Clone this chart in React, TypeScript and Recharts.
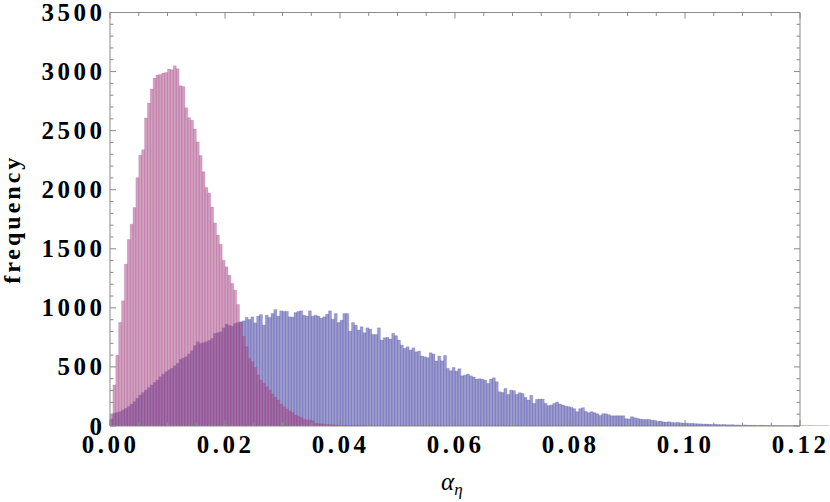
import React from 'react';
import { ComposedChart, Bar, XAxis, YAxis, ReferenceLine, Label } from 'recharts';

// ---- data: histogram bins of width 0.0005 starting at 0 ----
const BIN_WIDTH = 0.0005;

const blueCounts = [
  60, 107, 115, 121, 135, 149, 165, 186, 206, 235,
  262, 283, 304, 325, 347, 368, 389, 417, 438, 459,
  475, 488, 510, 530, 564, 575, 586, 610, 637, 680,
  713, 699, 705, 713, 725, 741, 784, 790, 797, 830,
  862, 850, 845, 868, 875, 882, 890, 919, 902, 924,
  873, 930, 944, 854, 938, 919, 953, 986, 930, 975,
  970, 970, 924, 922, 960, 970, 975, 938, 930, 975,
  930, 938, 930, 913, 924, 947, 975, 904, 952, 876,
  896, 952, 952, 803, 876, 854, 812, 840, 789, 831,
  820, 775, 775, 831, 727, 747, 750, 736, 784, 764,
  727, 685, 657, 671, 643, 662, 628, 634, 592, 586,
  578, 620, 609, 550, 592, 552, 597, 488, 468, 496,
  465, 485, 425, 431, 440, 425, 415, 397, 400, 397,
  389, 361, 397, 408, 375, 290, 284, 318, 268, 304,
  299, 268, 282, 276, 243, 220, 260, 192, 226, 228,
  228, 192, 172, 178, 192, 203, 186, 178, 169, 164,
  158, 147, 121, 147, 155, 124, 113, 121, 113, 104,
  90, 104, 104, 96, 87, 87, 87, 87, 87, 62,
  60, 79, 70, 65, 58, 56, 56, 55, 50, 48,
  40, 42, 35, 33, 36, 30, 28, 31, 27, 25,
  24, 22, 23, 20, 19, 18, 16, 17, 15, 14,
  15, 13, 12, 13, 11, 10, 11, 9, 9, 8,
  9, 7, 7, 6, 6, 5, 6, 5, 4, 5,
  4, 4, 3, 4, 3, 3, 2, 3, 2, 2,
  2, 2, 1, 2, 1, 1, 1, 1, 1, 1,
];

const pinkCounts = [
  93, 347, 600, 877, 1060, 1370, 1578, 1708, 1849, 2102,
  2291, 2339, 2607, 2733, 2852, 2945, 2970, 2976, 2987, 2993,
  3021, 3015, 3049, 3024, 2880, 2874, 2694, 2610, 2587, 2514,
  2404, 2290, 2153, 2018, 1972, 1854, 1719, 1617, 1539, 1403,
  1347, 1277, 1208, 1150, 1029, 880, 760, 671, 572, 544,
  496, 431, 389, 361, 332, 304, 271, 243, 220, 186,
  163, 145, 128, 114, 93, 83, 73, 56, 51, 48,
  45, 22, 20, 18, 15, 14, 12, 10, 9, 8,
  6, 5, 4, 3, 3, 2, 2, 1, 1, 0,
  0, 0, 0, 0, 0, 0, 0, 0, 0, 0,
  0, 0, 0, 0, 0, 0, 0, 0, 0, 0,
  0, 0, 0, 0, 0, 0, 0, 0, 0, 0,
  0, 0, 0, 0, 0, 0, 0, 0, 0, 0,
  0, 0, 0, 0, 0, 0, 0, 0, 0, 0,
  0, 0, 0, 0, 0, 0, 0, 0, 0, 0,
  0, 0, 0, 0, 0, 0, 0, 0, 0, 0,
  0, 0, 0, 0, 0, 0, 0, 0, 0, 0,
  0, 0, 0, 0, 0, 0, 0, 0, 0, 0,
  0, 0, 0, 0, 0, 0, 0, 0, 0, 0,
  0, 0, 0, 0, 0, 0, 0, 0, 0, 0,
  0, 0, 0, 0, 0, 0, 0, 0, 0, 0,
  0, 0, 0, 0, 0, 0, 0, 0, 0, 0,
  0, 0, 0, 0, 0, 0, 0, 0, 0, 0,
  0, 0, 0, 0, 0, 0, 0, 0, 0, 0,
  0, 0, 0, 0, 0, 0, 0, 0, 0, 0,
];

const xTicks = [
  0, 0.005, 0.01, 0.015, 0.02, 0.025, 0.03, 0.035, 0.04, 0.045, 0.05, 0.055,
  0.06, 0.065, 0.07, 0.075, 0.08, 0.085, 0.09, 0.095, 0.1, 0.105, 0.11, 0.115, 0.12,
];
const xMajorTicks = [0, 0.02, 0.04, 0.06, 0.08, 0.1, 0.12];
const yTicks = [
  0, 100, 200, 300, 400, 500, 600, 700, 800, 900, 1000, 1100, 1200, 1300, 1400, 1500,
  1600, 1700, 1800, 1900, 2000, 2100, 2200, 2300, 2400, 2500, 2600, 2700, 2800, 2900,
  3000, 3100, 3200, 3300, 3400, 3500,
];
const yMajorTicks = [0, 500, 1000, 1500, 2000, 2500, 3000, 3500];

const X_DOMAIN_MAX = 0.125; // bins extend past the frame
const FRAME_X_MAX = 0.12;
const Y_MAX = 3500;

const rows = blueCounts.map((b, i) => ({
  bin: i,
  start: i * BIN_WIDTH,
  blue: b,
  pink: pinkCounts[i],
}));

// ---- layout (page coordinates; chart placed at the page origin) ----
const W = 830;
const H = 502;
const MARGIN = { top: 12.5, right: 1.25, left: 0, bottom: 0 };
const Y_AXIS_W = 110;
const X_AXIS_H = 76;
const PLOT_LEFT = MARGIN.left + Y_AXIS_W;
const PLOT_TOP = MARGIN.top;
const PLOT_W = W - PLOT_LEFT - MARGIN.right;
const PLOT_H = H - MARGIN.top - MARGIN.bottom - X_AXIS_H;
const FRAME_RIGHT = PLOT_LEFT + PLOT_W * (FRAME_X_MAX / X_DOMAIN_MAX);

const FONT = '"Liberation Serif", "Times New Roman", serif';
const FRAME = '#8a8a8a';
const BLUE = 'rgb(57,57,159)';
const PINK = 'rgb(165,65,129)';

const isIn = (arr: number[], v: number) => arr.some((a) => Math.abs(a - v) < 1e-9);

const XTick = (props: any) => {
  const { x, y, payload } = props;
  const v = payload.value as number;
  const major = isIn(xMajorTicks, v);
  const len = major ? 6 : 3.5;
  return (
    <g>
      <line x1={x} y1={y} x2={x} y2={y - len} stroke={FRAME} strokeWidth={1} />
      <line x1={x} y1={y - PLOT_H} x2={x} y2={y - PLOT_H + len} stroke={FRAME} strokeWidth={1} />
      {major && (
        <text
          x={x + 0.5}
          y={y + 27}
          textAnchor="middle"
          fontFamily={FONT}
          fontWeight="bold"
          fontSize={25}
          letterSpacing={3.5}
          fill="#000"
        >
          {v.toFixed(2)}
        </text>
      )}
    </g>
  );
};

const YTick = (props: any) => {
  const { x, y, payload } = props;
  const v = payload.value as number;
  const major = isIn(yMajorTicks, v);
  const len = major ? 6 : 3.5;
  return (
    <g>
      <line x1={x} y1={y} x2={x + len} y2={y} stroke={FRAME} strokeWidth={1} />
      <line x1={FRAME_RIGHT} y1={y} x2={FRAME_RIGHT - len} y2={y} stroke={FRAME} strokeWidth={1} />
      {major && (
        <text
          x={x - 4.5}
          y={y + 8.5}
          textAnchor="end"
          fontFamily={FONT}
          fontWeight="bold"
          fontSize={25}
          letterSpacing={3.5}
          fill="#000"
        >
          {String(v)}
        </text>
      )}
    </g>
  );
};

const XLabel = () => {
  const cx = PLOT_LEFT + PLOT_W * (0.06 / X_DOMAIN_MAX);
  return (
    <text x={cx - 14} y={H - 12} fontFamily={FONT} fontStyle="italic" fontSize={25} fill="#000">
      α
      <tspan dy={5} fontSize={17}>η</tspan>
    </text>
  );
};

const YLabel = () => {
  const cx = 20;
  const cy = PLOT_TOP + PLOT_H / 2;
  return (
    <text
      x={cx}
      y={cy}
      transform={`rotate(-90, ${cx}, ${cy})`}
      textAnchor="middle"
      fontFamily={FONT}
      fontWeight="bold"
      fontSize={24}
      letterSpacing={3}
      fill="#000"
    >
      frequency
    </text>
  );
};

export default function App() {
  return (
    <div style={{ position: 'absolute', left: 0, top: 0 }}>
      <ComposedChart
        width={W}
        height={H}
        data={rows}
        margin={MARGIN}
        barCategoryGap={0}
        barGap={0}
      >
        <XAxis
          xAxisId="num"
          type="number"
          dataKey="start"
          domain={[0, X_DOMAIN_MAX]}
          allowDataOverflow
          ticks={xTicks}
          interval={0}
          height={X_AXIS_H}
          axisLine={false}
          tickLine={false}
          tickSize={0}
          tickMargin={0}
          tick={<XTick />}
        >
          <Label content={<XLabel />} />
        </XAxis>
        <XAxis xAxisId="binsBlue" dataKey="bin" type="category" hide height={0} />
        <XAxis xAxisId="binsPink" dataKey="bin" type="category" hide height={0} />
        <YAxis
          type="number"
          domain={[0, Y_MAX]}
          allowDataOverflow
          ticks={yTicks}
          interval={0}
          width={Y_AXIS_W}
          axisLine={false}
          tickLine={false}
          tickSize={0}
          tickMargin={0}
          tick={<YTick />}
        >
          <Label content={<YLabel />} />
        </YAxis>
        <Bar
          xAxisId="binsBlue"
          dataKey="blue"
          fill={BLUE}
          fillOpacity={0.5}
          stroke={BLUE}
          strokeOpacity={0.25}
          strokeWidth={0.7}
          isAnimationActive={false}
        />
        <Bar
          xAxisId="binsPink"
          dataKey="pink"
          fill={PINK}
          fillOpacity={0.5}
          stroke={PINK}
          strokeOpacity={0.25}
          strokeWidth={0.7}
          isAnimationActive={false}
        />
        <ReferenceLine xAxisId="num" segment={[{ x: 0, y: 0 }, { x: FRAME_X_MAX, y: 0 }]} stroke={FRAME} strokeWidth={1} />
        <ReferenceLine xAxisId="num" segment={[{ x: 0, y: Y_MAX }, { x: FRAME_X_MAX, y: Y_MAX }]} stroke={FRAME} strokeWidth={1} />
        <ReferenceLine xAxisId="num" segment={[{ x: 0, y: 0 }, { x: 0, y: Y_MAX }]} stroke={FRAME} strokeWidth={1} />
        <ReferenceLine xAxisId="num" segment={[{ x: FRAME_X_MAX, y: 0 }, { x: FRAME_X_MAX, y: Y_MAX }]} stroke={FRAME} strokeWidth={1} />
      </ComposedChart>
    </div>
  );
}
